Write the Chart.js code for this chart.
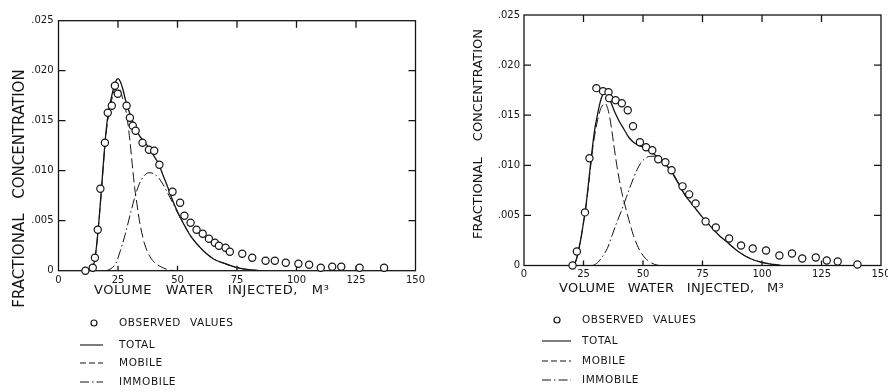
<!DOCTYPE html>
<html><head><meta charset="utf-8">
<script src="https://cdn.jsdelivr.net/npm/chart.js@4.4.1/dist/chart.umd.min.js"></script>
<style>
html,body{margin:0;padding:0;background:#fff;overflow:hidden;}
#wrap{position:relative;width:888px;height:392px;background:#fff;}
canvas{position:absolute;top:0;}
#c1{left:0;}
#c2{left:444px;}
</style></head><body>
<div id="wrap"><canvas id="c1" width="444" height="392"></canvas><canvas id="c2" width="444" height="392"></canvas></div>
<script>
// ---------- labels ----------
const xTickLabels = ['0','25','50','75','100','125','150'];
const yTickLabels = ['0','.005','.010','.015','.020','.025'];
const xAxisTitle = 'VOLUME WATER INJECTED, M³';
const yAxisTitle = 'FRACTIONAL CONCENTRATION';
const legendLabels = ['OBSERVED VALUES','TOTAL','MOBILE','IMMOBILE'];

// ---------- left panel data ----------
const leftObsX = [11.3,14.4,15.3,16.5,17.6,19.5,20.7,22.4,23.7,24.9,28.6,30.0,31.2,32.4,35.3,38.0,40.2,42.4,47.9,51.1,52.9,55.5,58.0,60.6,63.2,65.7,67.4,70.2,72.0,77.2,81.4,87.0,90.9,95.5,100.8,105.3,110.2,115.0,118.8,126.5,136.8];
const leftObsY = [0.0000,0.0003,0.0013,0.0041,0.0082,0.0128,0.0158,0.0165,0.0185,0.0177,0.0165,0.0153,0.0145,0.0140,0.0128,0.0121,0.0120,0.0106,0.0079,0.0068,0.0055,0.0048,0.0041,0.0037,0.0032,0.0028,0.0025,0.0023,0.0019,0.0017,0.0013,0.0010,0.0010,0.0008,0.0007,0.0006,0.0003,0.0004,0.0004,0.0003,0.0003];
const leftTotalX = [12,13,14,15,16,17,18,19,20,21,22,23,24,25,26,27,28,29,30,32,34,36,38,40,42,44,46,48,50,53,56,60,65,70,75,80,85];
const leftTotalY = [0,0.0001,0.0003,0.0008,0.0025,0.0050,0.0080,0.0112,0.0140,0.0159,0.0171,0.0181,0.0189,0.0192,0.0189,0.0182,0.0172,0.0164,0.0157,0.0145,0.0135,0.0129,0.0123,0.0115,0.0107,0.0095,0.0083,0.0070,0.0059,0.0045,0.0033,0.0022,0.0012,0.0007,0.0003,0.0001,0];
const leftMobileX = [12,14,15,16,17,18,19,20,21,22,23,24,25,26,27,28,29,30,31,32,33,34,35,36,38,40,43,46,49];
const leftMobileY = [0,0.0003,0.0008,0.0025,0.0050,0.0079,0.0110,0.0137,0.0155,0.0167,0.0177,0.0184,0.0185,0.0180,0.0172,0.0164,0.0150,0.0130,0.0106,0.0083,0.0066,0.0050,0.0038,0.0028,0.0016,0.0009,0.0004,0.0001,0];
const leftImmobileX = [20,22,24,26,28,30,32,34,36,38,40,42,44,46,48,50,53,56,60,65,70,75,80,85];
const leftImmobileY = [0,0.0002,0.0007,0.0020,0.0036,0.0055,0.0073,0.0087,0.0095,0.0098,0.0097,0.0093,0.0086,0.0077,0.0068,0.0058,0.0045,0.0033,0.0022,0.0012,0.0007,0.0003,0.0001,0];

// ---------- right panel data ----------
const rightObsX = [20.4,22.2,25.6,27.5,30.4,33.2,35.5,35.8,38.5,41.1,43.6,45.8,48.7,51.3,53.9,56.4,59.4,62.0,66.6,69.4,72.1,76.3,80.6,86.2,91.2,96.1,101.7,107.3,112.6,116.9,122.6,127.2,131.8,140.1];
const rightObsY = [0.0000,0.0014,0.0053,0.0107,0.0177,0.0174,0.0173,0.0167,0.0165,0.0162,0.0155,0.0139,0.0123,0.0118,0.0115,0.0106,0.0103,0.0095,0.0079,0.0071,0.0062,0.0044,0.0038,0.0027,0.0020,0.0017,0.0015,0.0010,0.0012,0.0007,0.0008,0.0005,0.0004,0.0001];
const rightTotalX = [20,21,22,23,24,25,26,27,28,29,30,31,32,33,34,35,36,38,40,42,44,46,48,50,52,54,56,58,60,62,64,66,68,70,72,75,78,82,86,90,95,100,105,108];
const rightTotalY = [0,0.0001,0.0006,0.0016,0.0028,0.0043,0.0059,0.0080,0.0102,0.0123,0.0140,0.0152,0.0163,0.0170,0.0172,0.0171,0.0166,0.0154,0.0144,0.0136,0.0128,0.0123,0.0120,0.0118,0.0115,0.0112,0.0109,0.0105,0.0100,0.0094,0.0086,0.0077,0.0069,0.0063,0.0057,0.0048,0.0040,0.0030,0.0022,0.0014,0.0007,0.0003,0.0001,0];
const rightMobileX = [21,22,23,24,25,26,27,28,29,30,31,32,33,34,35,36,37,38,39,40,41,42,43,44,46,48,50,52,55,57];
const rightMobileY = [0,0.0006,0.0016,0.0028,0.0043,0.0058,0.0078,0.0099,0.0119,0.0134,0.0146,0.0155,0.0160,0.0162,0.0158,0.0148,0.0133,0.0116,0.0100,0.0086,0.0074,0.0064,0.0055,0.0046,0.0030,0.0018,0.0010,0.0005,0.0001,0];
const rightImmobileX = [29,31,33,35,37,39,41,43,45,47,49,51,53,55,57,60,62,64,66,68,70,72,75,78,82,86,90,95,100,105,108];
const rightImmobileY = [0,0.0003,0.0009,0.0017,0.0030,0.0043,0.0055,0.0068,0.0081,0.0093,0.0102,0.0107,0.0109,0.0109,0.0106,0.0099,0.0093,0.0085,0.0077,0.0069,0.0063,0.0057,0.0048,0.0040,0.0030,0.0022,0.0014,0.0007,0.0003,0.0001,0];

// ---------- helpers ----------
const INK = '#151515';
const FONT = "'DejaVu Sans', sans-serif";
const pts = (xs, ys) => xs.map((x, i) => ({x: x, y: ys[i]}));
const DASH_MOBILE = [10, 4];
const DASH_IMMOBILE = [10, 3, 1.5, 3];

const decorPlugin = {
  id: 'decor',
  beforeDatasetsDraw(chart) {
    const {ctx, chartArea: a, scales: {x, y}} = chart;
    ctx.save();
    ctx.strokeStyle = INK;
    ctx.lineWidth = 1.3;
    ctx.strokeRect(a.left, a.top, a.right - a.left, a.bottom - a.top);
    const L = 7;
    ctx.beginPath();
    x.ticks.forEach(t => {
      if (t.value > x.min && t.value < x.max) {
        const px = x.getPixelForValue(t.value);
        ctx.moveTo(px, a.top); ctx.lineTo(px, a.top + L);
        ctx.moveTo(px, a.bottom); ctx.lineTo(px, a.bottom - 5);
      }
    });
    y.ticks.forEach(t => {
      if (t.value > y.min && t.value < y.max - 1e-9) {
        const py = y.getPixelForValue(t.value);
        ctx.moveTo(a.left, py); ctx.lineTo(a.left + L, py);
        ctx.moveTo(a.right, py); ctx.lineTo(a.right - L, py);
      }
    });
    ctx.stroke();
    ctx.restore();
  },
  afterDraw(chart, args, o) {
    const ctx = chart.ctx;
    ctx.save();
    ctx.fillStyle = INK;
    ctx.strokeStyle = INK;
    // y title
    ctx.save();
    ctx.translate(o.yTitle.x, o.yTitle.y);
    ctx.rotate(-Math.PI / 2);
    ctx.font = o.yTitle.size + 'px ' + FONT;
    ctx.textAlign = 'center';
    ctx.textBaseline = 'middle';
    try { ctx.wordSpacing = o.yTitle.ws + 'px'; } catch (e) {}
    ctx.fillText(yAxisTitle, 0, 0);
    ctx.restore();
    // x title
    ctx.save();
    ctx.font = o.xTitle.size + 'px ' + FONT;
    ctx.textAlign = 'left';
    ctx.textBaseline = 'middle';
    try { ctx.letterSpacing = o.xTitle.ls + 'px'; ctx.wordSpacing = o.xTitle.ws + 'px'; } catch (e) {}
    ctx.fillText(xAxisTitle, o.xTitle.x, o.xTitle.y);
    ctx.restore();
    // legend
    const lg = o.legend;
    ctx.save();
    ctx.font = '10.5px ' + FONT;
    ctx.textAlign = 'left';
    ctx.textBaseline = 'middle';
    try { ctx.letterSpacing = '0.6px'; ctx.wordSpacing = '5px'; } catch (e) {}
    ctx.lineWidth = 1.2;
    ctx.beginPath();
    ctx.arc(lg.circleX, lg.rows[0], 3, 0, Math.PI * 2);
    ctx.stroke();
    const dashes = [null, [], [6, 3], [9, 3, 1.5, 3]];
    for (let i = 1; i < 4; i++) {
      ctx.setLineDash(dashes[i]);
      ctx.lineWidth = 1.1;
      ctx.beginPath();
      ctx.moveTo(lg.lineX0, lg.rows[i]);
      ctx.lineTo(lg.lineX1, lg.rows[i]);
      ctx.stroke();
    }
    ctx.setLineDash([]);
    legendLabels.forEach((lab, i) => ctx.fillText(lab, lg.textX, lg.rows[i]));
    ctx.restore();
    ctx.restore();
  }
};

function makePanel(id, d, cfg) {
  const W = 444, H = 392, XH = 20;
  const area = cfg.area;
  return new Chart(document.getElementById(id), {
    type: 'line',
    data: {
      datasets: [
        {label: legendLabels[0], data: pts(d.obsX, d.obsY), showLine: false,
         pointRadius: 3.6, pointBorderWidth: 1.2, pointBackgroundColor: '#fff',
         pointBorderColor: INK, clip: false},
        {label: legendLabels[1], data: pts(d.totX, d.totY), borderColor: INK, borderWidth: 1.3,
         pointRadius: 0, cubicInterpolationMode: 'monotone', fill: false},
        {label: legendLabels[2], data: pts(d.mobX, d.mobY), borderColor: INK, borderWidth: 1,
         borderDash: DASH_MOBILE, pointRadius: 0, cubicInterpolationMode: 'monotone', fill: false},
        {label: legendLabels[3], data: pts(d.immX, d.immY), borderColor: INK, borderWidth: 1,
         borderDash: DASH_IMMOBILE, pointRadius: 0, cubicInterpolationMode: 'monotone', fill: false}
      ]
    },
    options: {
      responsive: false,
      animation: false,
      devicePixelRatio: 1,
      layout: {padding: {left: 0, top: area.top, right: W - area.right, bottom: H - area.bottom - XH}},
      plugins: {
        legend: {display: false},
        tooltip: {enabled: false},
        decor: cfg
      },
      scales: {
        x: {
          type: 'linear', min: 0, max: 150,
          ticks: {stepSize: 25, color: INK, font: {family: FONT, size: 10}, padding: cfg.xPad,
                  maxRotation: 0, autoSkip: false,
                  callback: (v, i) => xTickLabels[i]},
          grid: {display: false, drawTicks: false},
          border: {display: false},
          afterFit: s => { s.height = XH; s.paddingLeft = 0; s.paddingRight = 0; }
        },
        y: {
          min: 0, max: 0.025,
          ticks: {stepSize: 0.005, color: INK, font: {family: FONT, size: 10}, padding: cfg.yPad,
                  callback: (v, i) => yTickLabels[i]},
          grid: {display: false, drawTicks: false},
          border: {display: false},
          afterFit: s => { s.width = area.left; s.paddingTop = 0; s.paddingBottom = 0; }
        }
      }
    },
    plugins: [decorPlugin]
  });
}

makePanel('c1',
  {obsX: leftObsX, obsY: leftObsY, totX: leftTotalX, totY: leftTotalY,
   mobX: leftMobileX, mobY: leftMobileY, immX: leftImmobileX, immY: leftImmobileY},
  {area: {left: 58.5, top: 20.7, right: 415.5, bottom: 270.7}, xPad: 4, yPad: 5,
   yTitle: {x: 20, y: 188.5, size: 15, ws: 10},
   xTitle: {x: 94, y: 291, size: 13, ls: 0.6, ws: 9},
   legend: {circleX: 94, lineX0: 80, lineX1: 103, textX: 119, rows: [323, 345, 363, 382]}});

makePanel('c2',
  {obsX: rightObsX, obsY: rightObsY, totX: rightTotalX, totY: rightTotalY,
   mobX: rightMobileX, mobY: rightMobileY, immX: rightImmobileX, immY: rightImmobileY},
  {area: {left: 80, top: 15, right: 437, bottom: 265.5}, xPad: 3, yPad: 4,
   yTitle: {x: 35, y: 134, size: 13, ws: 12},
   xTitle: {x: 115, y: 289, size: 13, ls: 0.3, ws: 8},
   legend: {circleX: 113, lineX0: 98, lineX1: 127, textX: 138, rows: [320, 341, 361, 380]}});
</script>
</body></html>
